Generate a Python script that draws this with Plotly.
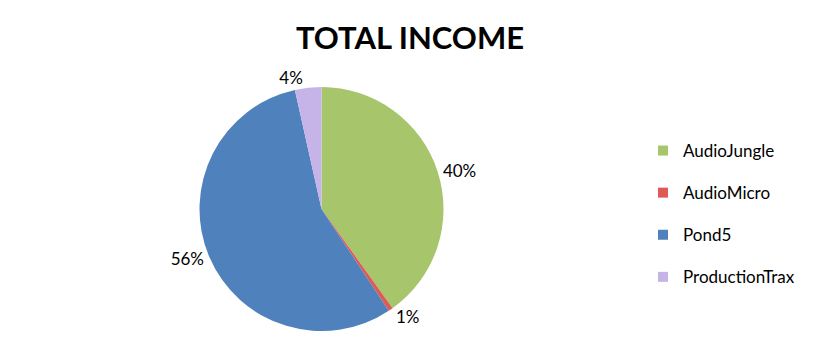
import plotly.graph_objects as go

labels = ["AudioJungle", "AudioMicro", "Pond5", "ProductionTrax"]
values = [40.1, 0.6, 55.8, 3.5]
text_labels = ["40%", "1%", "56%", "4%"]
colors = ["#A7C56A", "#E05A55", "#4F81BD", "#C6B3E8"]

W, H = 826, 357
cx, cy, r = 321.5, 209, 122

fig = go.Figure()
fig.add_trace(go.Pie(
    labels=labels, values=values, text=text_labels, textinfo="text",
    textposition="outside", sort=False, direction="clockwise", rotation=0,
    marker=dict(colors=colors, line=dict(width=0)),
    textfont=dict(family="Lato", size=17, color="#000000"),
    showlegend=False, hoverinfo="label+percent",
    domain=dict(x=[(cx - r) / W, (cx + r) / W], y=[1 - (cy + r) / H, 1 - (cy - r) / H]),
))

for lab, col in zip(labels, colors):
    fig.add_trace(go.Scatter(
        x=[None], y=[None], mode="markers", name=lab, legendgroup=lab,
        marker=dict(symbol="square", size=10, color=col),
    ))

fig.update_layout(
    width=W, height=H,
    margin=dict(l=0, r=0, t=0, b=0),
    paper_bgcolor="white", plot_bgcolor="white",
    title=dict(text="<b>TOTAL INCOME</b>", x=410 / W, xanchor="center",
               y=1 - 38 / H, yanchor="middle",
               font=dict(family="Lato", size=31, color="#000000")),
    xaxis=dict(visible=False), yaxis=dict(visible=False),
    legend=dict(x=643 / W, y=1 - 133 / H, xanchor="left", yanchor="top",
                font=dict(family="Lato", size=17, color="#000000"),
                tracegroupgap=17, itemwidth=30, bgcolor="rgba(0,0,0,0)"),
)

fig.write_html("out.html")
